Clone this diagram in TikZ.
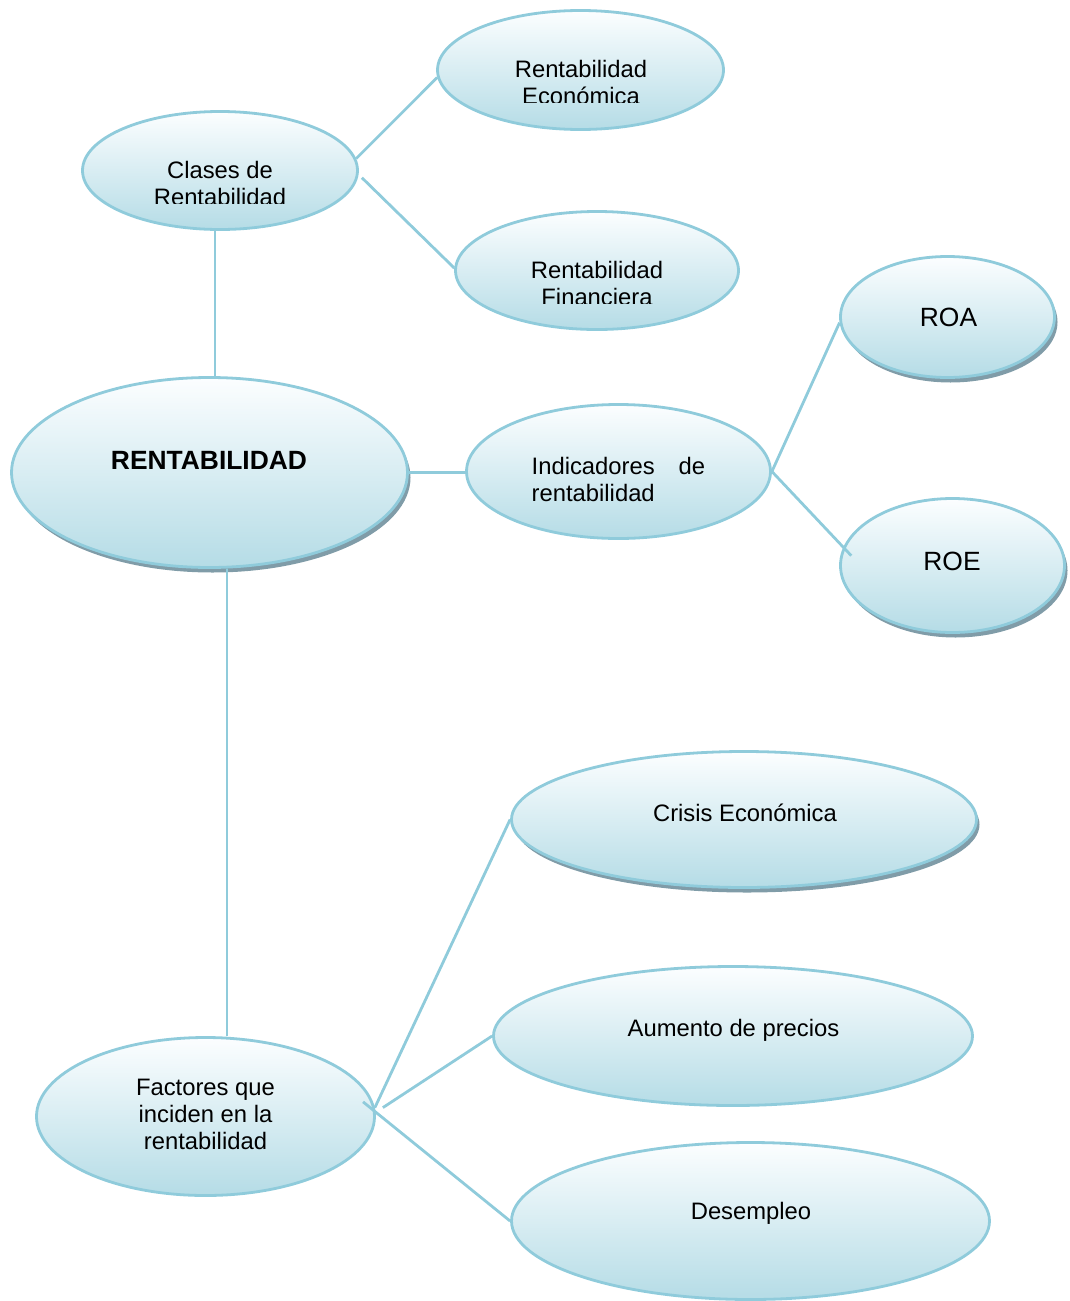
\documentclass[tikz,border=0pt]{standalone}
\usepackage{fontspec}
\setmainfont{Liberation Sans}
\usetikzlibrary{shapes.geometric,shadows}

\definecolor{rimblue}{RGB}{143,203,219}
\definecolor{topfill}{RGB}{252,254,255}
\definecolor{botfill}{RGB}{181,220,230}
\definecolor{shadowgrey}{RGB}{128,156,168}

\tikzset{
  bubble/.style={ellipse, draw=rimblue, line width=2.8pt, inner sep=0pt,
    top color=topfill, bottom color=botfill},
  shadowed/.style={drop shadow={shadow xshift=3pt, shadow yshift=-5pt,
    fill=shadowgrey, opacity=1}},
  link/.style={draw=rimblue, line width=2.8pt},
  label/.style={inner sep=0pt, anchor=base, font=\fontsize{23.8}{27}\selectfont},
  biglabel/.style={inner sep=0pt, anchor=base, font=\fontsize{26.4}{30}\selectfont},
}

\begin{document}
\begin{tikzpicture}[x=1pt, y=-1pt]
\useasboundingbox (0,0) rectangle (1069,1301);

% ellipses
\node[bubble, minimum width=286pt, minimum height=119pt] (econ)   at (580.5,70) {};
\node[bubble, minimum width=275pt, minimum height=118pt] (clases) at (220,170.5) {};
\node[bubble, minimum width=283pt, minimum height=118pt] (fin)    at (597,270.5) {};
\node[bubble, shadowed, minimum width=214pt, minimum height=121pt] (roa) at (947.5,317) {};
\node[bubble, shadowed, minimum width=396pt, minimum height=190pt] (rent) at (209.5,472.5) {};
\node[bubble, minimum width=304pt, minimum height=134pt] (ind)    at (618.5,471.5) {};
\node[bubble, shadowed, minimum width=224pt, minimum height=134pt] (roe) at (952.5,565.5) {};
\node[bubble, shadowed, minimum width=465pt, minimum height=136pt] (crisis) at (744,819.5) {};
\node[bubble, minimum width=479pt, minimum height=139pt] (aum)    at (733,1036) {};
\node[bubble, minimum width=338pt, minimum height=158pt] (fact)   at (205.5,1116.5) {};
\node[bubble, minimum width=478pt, minimum height=157pt] (des)    at (750.5,1221) {};

% labels (second lines cut off by their text frames)
\begin{scope}
  \clip (437,10) rectangle (724,102);
  \node[label] (econ-a) at (581,77) {Rentabilidad};
  \node[label] (econ-b) at (581,104) {Económica};
\end{scope}
\begin{scope}
  \clip (82,111) rectangle (358,203);
  \node[label] (clases-a) at (220,178) {Clases de};
  \node[label] (clases-b) at (220,205) {Rentabilidad};
\end{scope}
\begin{scope}
  \clip (455,211) rectangle (739,303);
  \node[label] (fin-a) at (597,278) {Rentabilidad};
  \node[label] (fin-b) at (597,305) {Financiera};
\end{scope}

\node[biglabel] (roa-t) at (948.5,326.5) {ROA};
\node[biglabel] (roe-t) at (952,570.5) {ROE};
\node[biglabel, font=\fontsize{26.4}{30}\selectfont\bfseries] (rent-t) at (209,469.5) {RENTABILIDAD};

\node[label, anchor=base west] (ind-a) at (531.5,474) {\makebox[173.5pt][s]{Indicadores de}};
\node[label, anchor=base west] (ind-b) at (531.5,501) {rentabilidad};

\node[label] (crisis-t) at (745,821.5) {Crisis Económica};
\node[label] (aum-t) at (733.5,1036) {Aumento de precios};
\node[label] (des-t) at (751,1219.5) {Desempleo};

\node[label] (fact-a) at (205.5,1095) {Factores que};
\node[label] (fact-b) at (205.5,1122) {inciden en la};
\node[label] (fact-c) at (205.5,1149) {rentabilidad};

% connectors
\draw[link] (clases.5) -- (econ.183);
\draw[link] ([xshift=4pt]clases.-3) -- (fin.179);
\draw[link] ([xshift=-5pt]clases.south) -- ([xshift=5.5pt]rent.north);
\draw[link] (rent.east) -- (rent.east -| ind.west);
\draw[link] (ind.east) -- (roa.183);
\draw[link] (ind.east) -- ([xshift=11pt]roe.175);
\draw[link] ([xshift=17.5pt]rent.south) -- ([xshift=17.5pt]rent.south |- fact.north);
\draw[link] (fact.3) -- (crisis.west);
\draw[link] ([xshift=8pt]fact.3) -- (aum.west);
\draw[link] ([xshift=-10pt]fact.5) -- (des.west);
\end{tikzpicture}
\end{document}
